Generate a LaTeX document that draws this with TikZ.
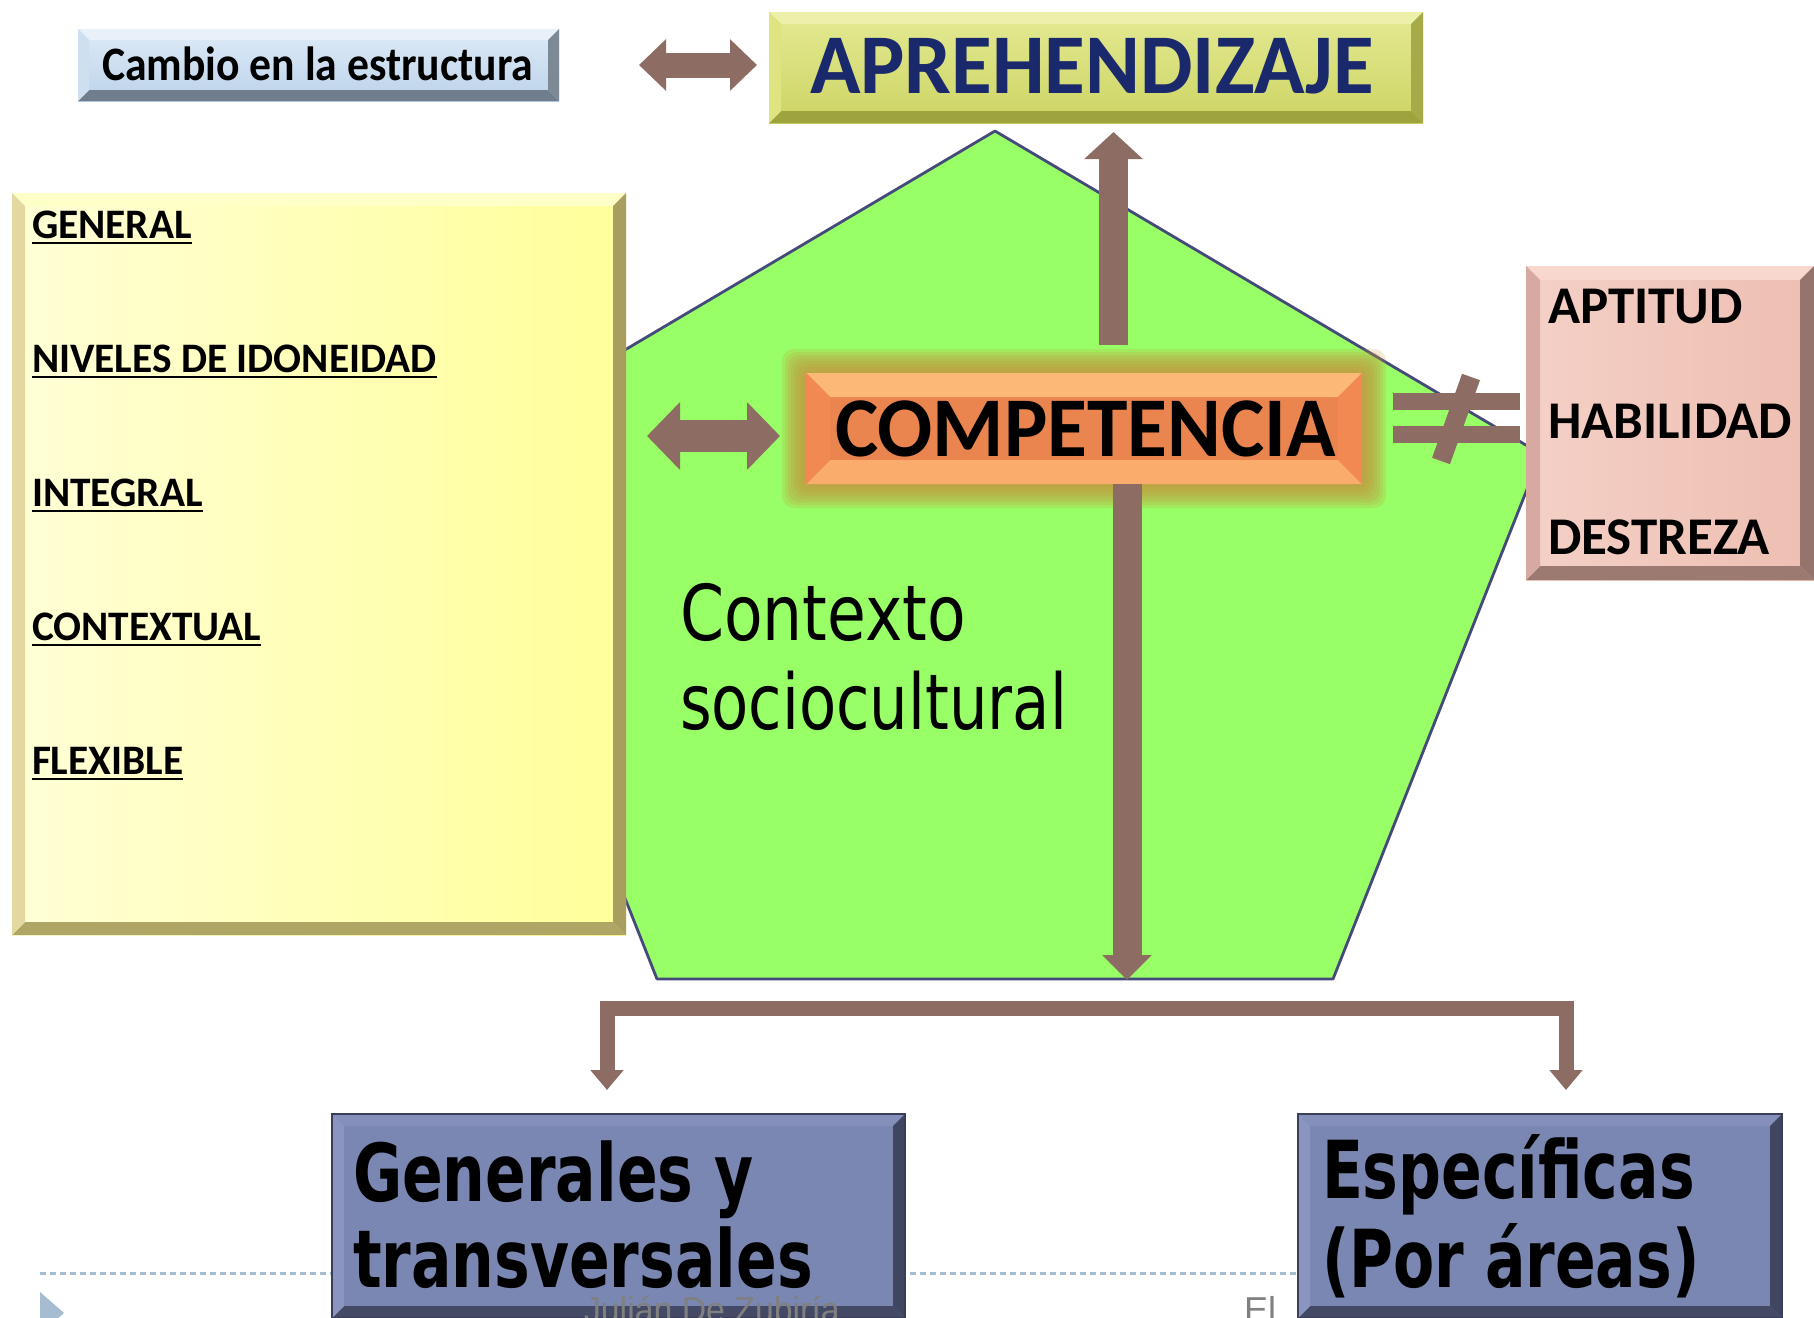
\documentclass[tikz,border=0pt]{standalone}
\usepackage{fontspec}
\setmainfont{Carlito}
\newfontfamily\wide{DejaVu Sans}
\newfontfamily\footfont{Liberation Sans}
\usetikzlibrary{arrows.meta,calc,positioning}
\definecolor{arrowbrown}{RGB}{141,108,99}
\definecolor{pentgreen}{RGB}{153,255,102}
\definecolor{pentline}{RGB}{70,74,122}
\definecolor{glowgold}{RGB}{196,150,62}
\definecolor{cambioTop}{RGB}{222,235,247}
\definecolor{cambioBot}{RGB}{188,210,234}
\definecolor{cambioBandT}{RGB}{232,241,250}
\definecolor{cambioBandL}{RGB}{206,223,239}
\definecolor{cambioBandR}{RGB}{126,137,150}
\definecolor{cambioBandB}{RGB}{112,125,140}
\definecolor{apreTop}{RGB}{228,234,146}
\definecolor{apreBot}{RGB}{204,212,100}
\definecolor{apreBandT}{RGB}{236,240,170}
\definecolor{apreBandL}{RGB}{222,228,130}
\definecolor{apreBandR}{RGB}{166,170,72}
\definecolor{apreBandB}{RGB}{158,163,62}
\definecolor{apreText}{RGB}{26,40,108}
\definecolor{yelLight}{RGB}{255,255,215}
\definecolor{yelFace}{RGB}{255,255,153}
\definecolor{yelBandT}{RGB}{255,255,200}
\definecolor{yelBandL}{RGB}{226,216,160}
\definecolor{yelBandR}{RGB}{168,158,96}
\definecolor{yelBandB}{RGB}{175,165,100}
\definecolor{compFace}{RGB}{234,133,80}
\definecolor{compBandT}{RGB}{251,184,118}
\definecolor{compBandB}{RGB}{250,172,108}
\definecolor{compBandS}{RGB}{242,136,82}
\definecolor{pinkLeft}{RGB}{244,208,198}
\definecolor{pinkRight}{RGB}{238,190,178}
\definecolor{pinkBandT}{RGB}{247,215,206}
\definecolor{pinkBandL}{RGB}{214,170,160}
\definecolor{pinkBandR}{RGB}{148,116,108}
\definecolor{pinkBandB}{RGB}{156,122,114}
\definecolor{slateFace}{RGB}{122,135,178}
\definecolor{slateBandT}{RGB}{132,144,186}
\definecolor{slateBandL}{RGB}{138,150,192}
\definecolor{slateBandR}{RGB}{64,69,96}
\definecolor{slateBandB}{RGB}{68,74,102}
\definecolor{slateLine}{RGB}{58,62,88}
\definecolor{footline}{RGB}{166,188,209}
\definecolor{footgray}{RGB}{128,128,128}
% bevelled frame round a panel node: name, depth, top, bottom, left, right
\newcommand{\bevel}[6]{%
  \fill[#3] (#1.north west) -- (#1.north east) -- ++(-#2,-#2) -- ($(#1.north west)+(#2,-#2)$) -- cycle;
  \fill[#4] (#1.south west) -- (#1.south east) -- ++(-#2,#2) -- ($(#1.south west)+(#2,#2)$) -- cycle;
  \fill[#5] (#1.north west) -- ++(#2,-#2) -- ($(#1.south west)+(#2,#2)$) -- (#1.south west) -- cycle;
  \fill[#6] (#1.north east) -- ++(-#2,-#2) -- ($(#1.south east)+(-#2,#2)$) -- (#1.south east) -- cycle;}
\begin{document}
\begin{tikzpicture}[x=1pt,y=1pt,
    panel/.style={rectangle,inner sep=0pt,outer sep=0pt},
    label text/.style={inner sep=0pt,outer sep=0pt,anchor=base west},
    list item/.style={label text,font=\fontsize{42}{48}\selectfont\bfseries,xscale=0.985},
    trait item/.style={label text,font=\fontsize{53}{58}\selectfont\bfseries},
    big text/.style={label text,font=\fontsize{80}{88}\selectfont\wide\bfseries,xscale=0.75},
    underl/.style={line width=2.2pt},
    brown arrow/.style={color=arrowbrown,line join=miter}]
  \useasboundingbox (0,0) rectangle (1814,-1317);
  \clip (0,0) rectangle (1814,-1317);
  \fill[white] (0,0) rectangle (1814,-1317);

  % context pentagon
  \filldraw[fill=pentgreen,draw=pentline,line width=2.8pt,line join=round]
    (995,-131) -- (1541,-454) -- (1333,-979) -- (657,-979) -- (449,-454) -- cycle;
  \node[label text,font=\fontsize{77}{84}\selectfont\wide,xscale=0.82] (ctx1) at (680,-640) {Contexto};
  \node[label text,font=\fontsize{77}{84}\selectfont\wide,xscale=0.79] (ctx2) at (680,-729) {sociocultural};

  % left list
  \node[panel,minimum width=614pt,minimum height=742pt,left color=yelLight,right color=yelFace] (listbox) at (319,-564) {};
  \bevel{listbox}{13}{yelBandT}{yelBandB}{yelBandL}{yelBandR}
  \foreach \word [count=\i from 0] in {GENERAL,NIVELES DE IDONEIDAD,INTEGRAL,CONTEXTUAL,FLEXIBLE} {
    \node[list item] (item\i) at (32,-238-134*\i) {\word};
    \draw[underl] ([yshift=-5pt]item\i.base west) -- ([yshift=-5pt]item\i.base east);
  }

  % top row
  \node[panel,minimum width=481pt,minimum height=72pt,top color=cambioTop,bottom color=cambioBot] (cambiobox) at (318.5,-65) {};
  \bevel{cambiobox}{11}{cambioBandT}{cambioBandB}{cambioBandL}{cambioBandR}
  \node[label text,font=\fontsize{48}{52}\selectfont\bfseries,xscale=0.91] (cambio) at (102,-80) {Cambio en la estructura};

  \node[panel,minimum width=654pt,minimum height=111pt,top color=apreTop,bottom color=apreBot] (aprebox) at (1096,-67.5) {};
  \bevel{aprebox}{12}{apreBandT}{apreBandB}{apreBandL}{apreBandR}
  \node[label text,font=\fontsize{85}{90}\selectfont\bfseries,text=apreText,xscale=0.98] (apre) at (810,-93) {APREHENDIZAJE};

  % traits box
  \node[panel,minimum width=288pt,minimum height=314pt,left color=pinkLeft,right color=pinkRight] (traitbox) at (1670,-423) {};
  \bevel{traitbox}{14}{pinkBandT}{pinkBandB}{pinkBandL}{pinkBandR}
  \foreach \word [count=\i from 0] in {APTITUD,HABILIDAD,DESTREZA}
    \node[trait item] (trait\i) at (1548,-323-115.5*\i) {\word};

  % competencia with glow
  \node[panel,minimum width=556pt,minimum height=111pt] (compbox) at (1084,-428.5) {};
  \foreach \g in {1,...,8}
    \fill[glowgold,opacity=0.2,rounded corners=12pt] ($(compbox.south west)+(-\g*3,-\g*3)$) rectangle ($(compbox.north east)+(\g*3,\g*3)$);
  \fill[compFace] (compbox.south west) rectangle (compbox.north east);
  \bevel{compbox}{24}{compBandT}{compBandB}{compBandS}{compBandS}
  \node[label text,font=\fontsize{85}{90}\selectfont\bfseries,xscale=0.96] (comp) at (835,-456) {COMPETENCIA};

  % arrows
  \path (cambiobox.east) edge[brown arrow,line width=25pt,{Triangle[width=50pt,length=27pt]}-{Triangle[width=50pt,length=27pt]},shorten <=80pt,shorten >=12pt]
    (cambiobox.east -| aprebox.west);
  \path ([yshift=-7.5pt]compbox.west -| listbox.east) edge[brown arrow,line width=32pt,{Triangle[width=66pt,length=33pt]}-{Triangle[width=66pt,length=33pt]},shorten <=21pt,shorten >=26pt]
    ([yshift=-7.5pt]compbox.west);
  \coordinate (uptail) at (1113.5,-345);
  \path (uptail) edge[brown arrow,line width=29pt,-{Triangle[width=57pt,length=27pt]},shorten >=9pt]
    (uptail |- aprebox.south);
  \coordinate (pentbase) at (1127,-980);
  \path (compbox.south -| pentbase) edge[brown arrow,line width=29pt,-{Triangle[width=48pt,length=25pt]}]
    (pentbase);

  % not equal
  \draw[brown arrow,line width=17pt] (1393,-401.5) -- (1520,-401.5);
  \draw[brown arrow,line width=17pt] (1393,-434) -- (1520,-434);
  \draw[brown arrow,line width=19pt] (1471,-377) -- (1441,-461);

  % footer line
  \draw[footline,line width=3pt,dash pattern=on 6pt off 4pt] (40,-1273) -- (1300,-1273);

  % bottom boxes
  \node[panel,minimum width=573pt,minimum height=204pt,fill=slateFace] (genbox) at (618.5,-1216) {};
  \bevel{genbox}{12}{slateBandT}{slateBandB}{slateBandL}{slateBandR}
  \draw[slateLine,line width=2.5pt] (genbox.south west) rectangle (genbox.north east);
  \node[big text] (gen1) at (353,-1201) {Generales y};
  \node[big text] (gen2) at (353,-1287) {transversales};

  \node[panel,minimum width=484pt,minimum height=204pt,fill=slateFace] (espbox) at (1540,-1216) {};
  \bevel{espbox}{12}{slateBandT}{slateBandB}{slateBandL}{slateBandR}
  \draw[slateLine,line width=2.5pt] (espbox.south west) rectangle (espbox.north east);
  \node[big text] (esp1) at (1322,-1198) {Específicas};
  \node[big text] (esp2) at (1322,-1287) {(Por áreas)};

  % bracket
  \coordinate (tipL) at (607,-1090);
  \coordinate (tipR) at (1566,-1090);
  \coordinate (barrow) at (1000,-1008.5);
  \draw[brown arrow,line width=15pt,{Triangle[width=32pt,length=20pt]}-{Triangle[width=32pt,length=20pt]}]
    (tipL) -- (tipL |- barrow) -- (tipR |- barrow) -- (tipR);

  % footer
  \fill[footline] (40,-1292) -- (64,-1313) -- (40,-1334) -- cycle;
  \node[label text,font=\fontsize{36}{40}\selectfont\footfont,text=footgray,xscale=0.94] (author) at (584,-1322) {Julián De Zubiría};
  \node[label text,font=\fontsize{36}{40}\selectfont\footfont,text=footgray] (footel) at (1244,-1322) {El};
\end{tikzpicture}
\end{document}
